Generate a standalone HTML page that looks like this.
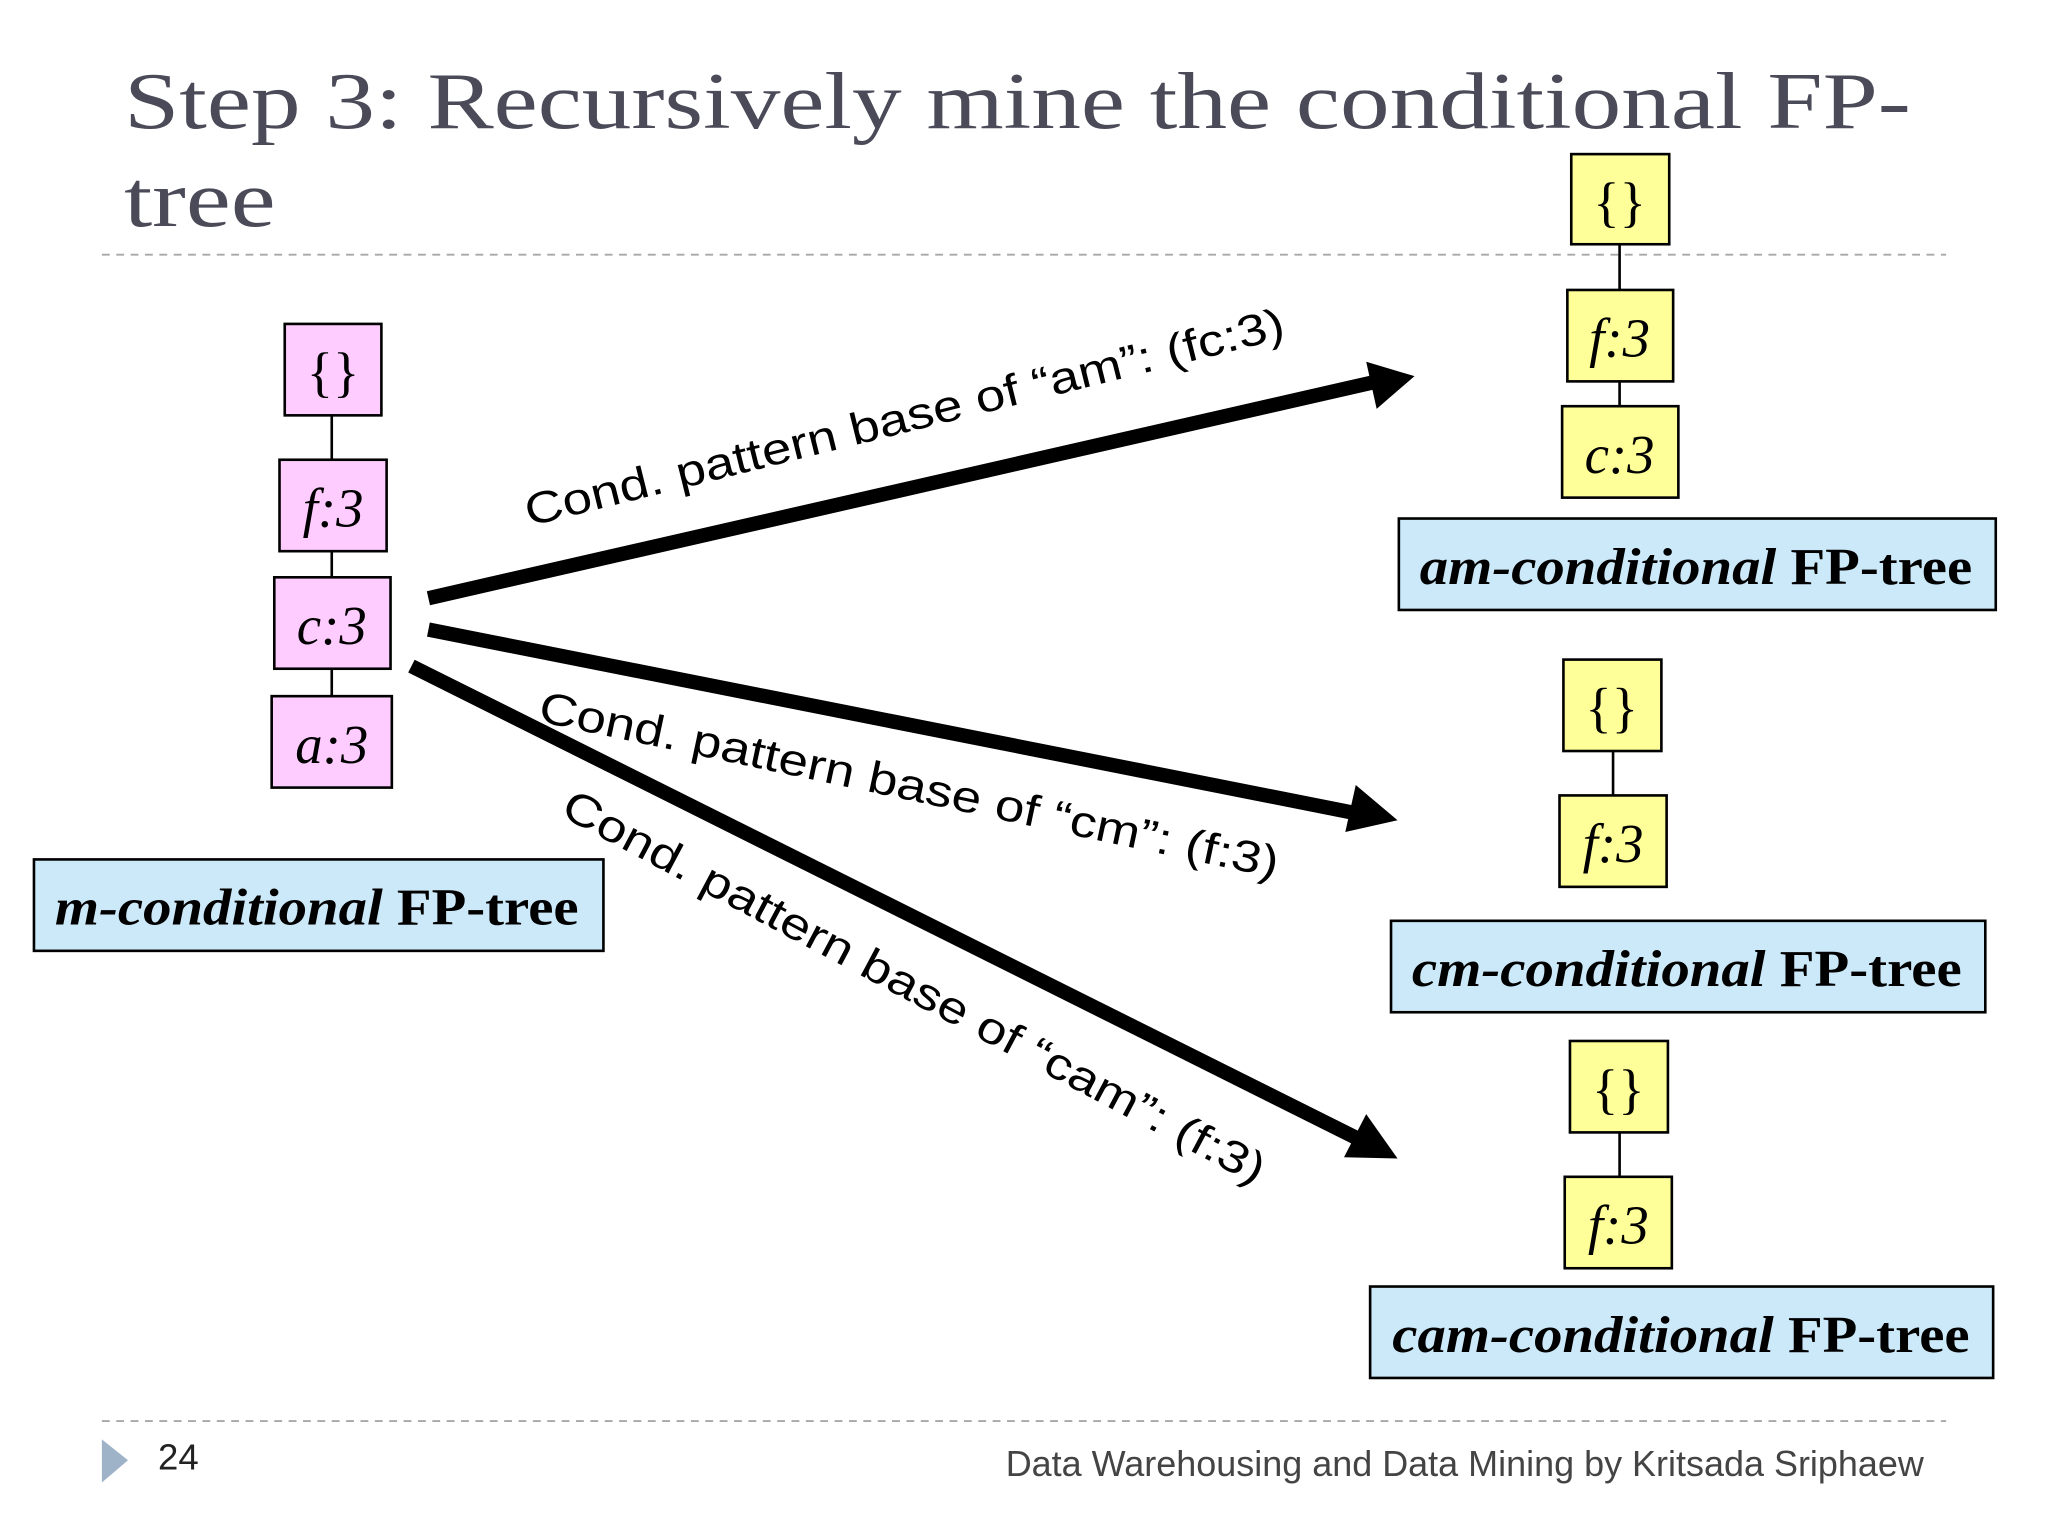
<!DOCTYPE html>
<html><head><meta charset="utf-8"><style>
html,body{margin:0;padding:0;background:#fff;}
svg{display:block;}
</style></head><body>
<svg width="2048" height="1536" viewBox="0 0 1568 1176" xmlns="http://www.w3.org/2000/svg">
<rect width="1568" height="1176" fill="#fff"/>
<text x="95" y="98" font-family="Liberation Serif, serif" font-size="62" fill="#4a4a58" textLength="1368" lengthAdjust="spacingAndGlyphs">Step 3: Recursively mine the conditional FP-</text>
<text x="95" y="173" font-family="Liberation Serif, serif" font-size="62" fill="#4a4a58" textLength="116" lengthAdjust="spacingAndGlyphs">tree</text>
<line x1="78" y1="195" x2="1490" y2="195" stroke="#a8a8a8" stroke-width="1.5" stroke-dasharray="6,5"/>
<line x1="78" y1="1088" x2="1490" y2="1088" stroke="#a8a8a8" stroke-width="1.5" stroke-dasharray="6,5"/>
<polygon points="78,1102 98,1118 78,1135" fill="#9fb3c8"/>
<text x="121" y="1125" font-family="Liberation Sans, sans-serif" font-size="28" fill="#222">24</text>
<text x="1473" y="1130" text-anchor="end" font-family="Liberation Sans, sans-serif" font-size="28" fill="#444" textLength="703" lengthAdjust="spacingAndGlyphs">Data Warehousing and Data Mining by Kritsada Sriphaew</text>

<g stroke="#000" stroke-width="2">
<line x1="254" y1="318" x2="254" y2="533"/>
<line x1="1240" y1="187" x2="1240" y2="311"/>
<line x1="1235" y1="575" x2="1235" y2="609"/>
<line x1="1240" y1="867" x2="1240" y2="901"/>
</g>
<g stroke="#000" stroke-width="2" fill="#ffccff">
<rect x="218" y="248" width="74" height="70"/>
<rect x="214" y="352" width="82" height="70"/>
<rect x="210" y="442" width="89" height="70"/>
<rect x="208" y="533" width="92" height="70"/>
</g>
<g stroke="#000" stroke-width="2" fill="#ffff99">
<rect x="1203" y="118" width="75" height="69"/>
<rect x="1200" y="222" width="81" height="70"/>
<rect x="1196" y="311" width="89" height="70"/>
<rect x="1197" y="505" width="75" height="70"/>
<rect x="1194" y="609" width="82" height="70"/>
<rect x="1202" y="797" width="75" height="70"/>
<rect x="1198" y="901" width="82" height="70"/>
</g>
<g stroke="#000" stroke-width="2" fill="#cce9f9">
<rect x="26" y="658" width="436" height="70"/>
<rect x="1071" y="397" width="457" height="70"/>
<rect x="1065" y="705" width="455" height="70"/>
<rect x="1049" y="985" width="477" height="70"/>
</g>
<g font-family="Liberation Serif, serif" font-size="42" text-anchor="middle" fill="#000">
<text x="255" y="299">{}</text>
<text x="1240" y="169">{}</text>
<text x="1234" y="556">{}</text>
<text x="1239" y="848">{}</text>
</g>
<g font-family="Liberation Serif, serif" font-style="italic" font-size="42" text-anchor="middle" fill="#000">
<text x="255" y="403">f:3</text>
<text x="254" y="493">c:3</text>
<text x="254" y="584">a:3</text>
<text x="1240" y="273">f:3</text>
<text x="1240" y="362">c:3</text>
<text x="1235" y="660">f:3</text>
<text x="1239" y="952">f:3</text>
</g>
<g font-family="Liberation Serif, serif" font-weight="bold" font-size="40" fill="#000">
<text x="42" y="708" textLength="401" lengthAdjust="spacingAndGlyphs"><tspan font-style="italic">m-conditional</tspan> FP-tree</text>
<text x="1087" y="447" textLength="423" lengthAdjust="spacingAndGlyphs"><tspan font-style="italic">am-conditional</tspan> FP-tree</text>
<text x="1081" y="755" textLength="421" lengthAdjust="spacingAndGlyphs"><tspan font-style="italic">cm-conditional</tspan> FP-tree</text>
<text x="1066" y="1035" textLength="442" lengthAdjust="spacingAndGlyphs"><tspan font-style="italic">cam-conditional</tspan> FP-tree</text>
</g>
<g stroke="#000" stroke-width="11" fill="none">
<line x1="328" y1="458" x2="1050" y2="293"/>
<line x1="328" y1="482" x2="1035" y2="622"/>
<line x1="315" y1="510" x2="1040" y2="872"/>
</g>
<g fill="#000">
<polygon points="1083,288 1046,277 1054,313"/>
<polygon points="1070,628 1038,601 1030,637"/>
<polygon points="1070,887 1046,853 1029,886"/>
</g>
<g font-family="Liberation Sans, sans-serif" font-size="34" fill="#000">
<text transform="translate(405,403) rotate(-14)" textLength="598" lengthAdjust="spacingAndGlyphs">Cond. pattern base of “am”: (fc:3)</text>
<text transform="translate(411,552) rotate(12)" textLength="578" lengthAdjust="spacingAndGlyphs">Cond. pattern base of “cm”: (f:3)</text>
<text transform="translate(428,624) rotate(28)" textLength="604" lengthAdjust="spacingAndGlyphs">Cond. pattern base of “cam”: (f:3)</text>
</g>
</svg>
</body></html>
